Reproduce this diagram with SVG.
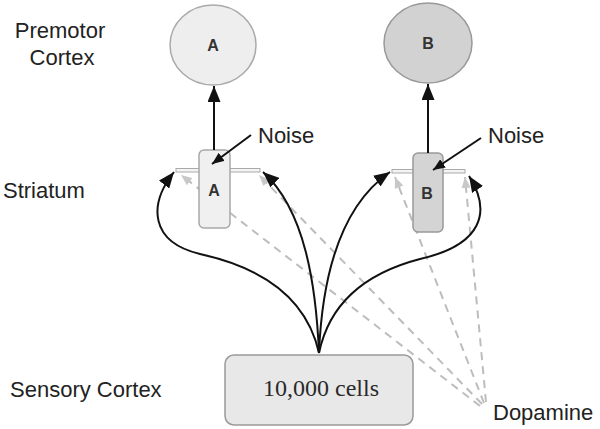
<svg xmlns="http://www.w3.org/2000/svg" width="600" height="429" viewBox="0 0 600 429">
<style>
.lbl{font-family:"Liberation Sans",Arial,sans-serif;font-size:22px;fill:#222}
.nl{font-family:"Liberation Sans",Arial,sans-serif;font-size:16px;font-weight:bold;fill:#333;text-anchor:middle}
.blk{fill:none;stroke:#111;stroke-width:2}
.dash{fill:none;stroke:#bdbdbd;stroke-width:2;stroke-dasharray:8 6}
.bar{fill:#f4f4f4;stroke:#aaa;stroke-width:1}
</style>
<defs>
<marker id="ah" markerUnits="userSpaceOnUse" markerWidth="16" markerHeight="13" refX="16" refY="6.5" orient="auto">
<path d="M0,0 L16,6.5 L0,13 z" fill="#111"/>
</marker>
<marker id="ahs" markerUnits="userSpaceOnUse" markerWidth="12" markerHeight="10" refX="12" refY="5" orient="auto">
<path d="M0,0 L12,5 L0,10 z" fill="#111"/>
</marker>
<marker id="ag" markerUnits="userSpaceOnUse" markerWidth="11" markerHeight="9" refX="11" refY="4.5" orient="auto">
<path d="M0,0 L11,4.5 L0,9 z" fill="#c8c8c8"/>
</marker>
</defs>

<g id="labels">
<text class="lbl" x="60" y="38" text-anchor="middle">Premotor</text>
<text class="lbl" x="62" y="65" text-anchor="middle">Cortex</text>
<text class="lbl" x="3" y="198">Striatum</text>
<text class="lbl" x="10" y="397">Sensory Cortex</text>
<text class="lbl" x="493" y="420">Dopamine</text>
</g>

<g id="connectors">
<line class="dash" x1="480" y1="406" x2="181" y2="175" marker-end="url(#ag)"/>
<line class="dash" x1="482" y1="404" x2="259" y2="175" marker-end="url(#ag)"/>
<line class="dash" x1="484" y1="403" x2="395" y2="177" marker-end="url(#ag)"/>
<line class="dash" x1="486" y1="402" x2="465" y2="177" marker-end="url(#ag)"/>
</g>

<g id="bars">
<rect class="bar" x="176" y="168.5" width="84" height="3.5"/>
<rect class="bar" x="392" y="169.5" width="73" height="3.5"/>
</g>

<g id="premotorA">
<ellipse cx="213" cy="45" rx="43" ry="40" fill="#eeeeee" stroke="#aaaaaa" stroke-width="1.5"/>
<text class="nl" x="213" y="51">A</text>
</g>
<g id="premotorB">
<ellipse cx="428" cy="43" rx="44" ry="40" fill="#d2d2d2" stroke="#999999" stroke-width="1.5"/>
<text class="nl" x="428" y="49">B</text>
</g>

<g id="striatumA">
<rect x="199" y="150" width="31" height="78" rx="5" fill="#f0f0f0" stroke="#a8a8a8" stroke-width="1.5"/>
<text class="nl" x="214" y="196">A</text>
</g>
<g id="striatumB">
<rect x="413" y="153" width="30" height="79" rx="5" fill="#d4d4d4" stroke="#999999" stroke-width="1.5"/>
<text class="nl" x="427" y="199">B</text>
</g>

<g id="sensory">
<rect x="225" y="355" width="188" height="70" rx="9" fill="#e8e8e8" stroke="#999999" stroke-width="1.5"/>
<text x="321" y="396" text-anchor="middle" font-family="'Liberation Serif','Times New Roman',serif" font-size="24" fill="#2a2a2a">10,000 cells</text>
</g>

<g id="noiseA">
<text class="lbl" x="258" y="143">Noise</text>
</g>
<g id="noiseB">
<text class="lbl" x="488" y="143">Noise</text>
</g>

<g id="connectors-black">
<line class="blk" x1="214" y1="150" x2="214" y2="86" marker-end="url(#ah)"/>
<line class="blk" x1="428" y1="153" x2="428" y2="84" marker-end="url(#ah)"/>
<line class="blk" x1="251" y1="135" x2="212" y2="164" marker-end="url(#ahs)"/>
<line class="blk" x1="481" y1="138" x2="433" y2="170" marker-end="url(#ahs)"/>
<path class="blk" d="M319,353 C305,290 250,265 200,254 C150,242 148,205 174,172" marker-end="url(#ah)"/>
<path class="blk" d="M319,353 C316,285 305,210 263,172" marker-end="url(#ah)"/>
<path class="blk" d="M319,353 C322,280 338,208 390,172" marker-end="url(#ah)"/>
<path class="blk" d="M319,353 C330,300 370,272 420,259 C482,245 492,212 469,176" marker-end="url(#ah)"/>
</g>
</svg>
